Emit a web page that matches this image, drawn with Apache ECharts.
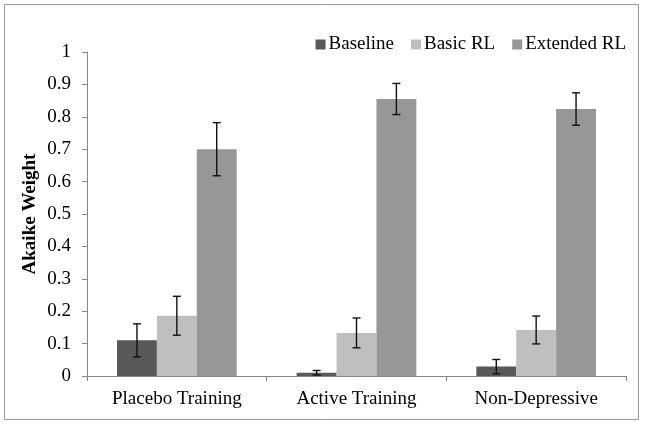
<!DOCTYPE html>
<html>
<head>
<meta charset="utf-8">
<script src="https://cdn.jsdelivr.net/npm/echarts@6/dist/echarts.min.js"></script>
<style>html,body{margin:0;padding:0;background:#fff}#c{width:645px;height:426px}</style>
</head>
<body>
<div id="c"></div>
<script>
const categories = ['Placebo Training', 'Active Training', 'Non-Depressive'];
const seriesNames = ['Baseline', 'Basic RL', 'Extended RL'];
const baseline = [0.110, 0.010, 0.029];
const basicRL = [0.186, 0.133, 0.142];
const extendedRL = [0.700, 0.855, 0.824];
const baselineErr = [0.051, 0.007, 0.022];
const basicRLErr = [0.060, 0.046, 0.043];
const extendedRLErr = [0.082, 0.048, 0.050];
const yTicks = [0, 0.1, 0.2, 0.3, 0.4, 0.5, 0.6, 0.7, 0.8, 0.9, 1];

const values = [baseline, basicRL, extendedRL];
const errs = [baselineErr, basicRLErr, extendedRLErr];
const colors = ['#585858', '#bfbfbf', '#979797'];
const GAP = 0.334;
const FONT = '"Liberation Serif", "Times New Roman", serif';

const errData = [];
values.forEach((arr, s) => arr.forEach((v, i) => errData.push([i, v - errs[s][i], v + errs[s][i], s])));

const chart = echarts.init(document.getElementById('c'));
chart.setOption({
  animation: false,
  textStyle: { fontFamily: FONT },
  graphic: [{ type: 'rect', shape: { x: 4.5, y: 4.5, width: 634, height: 415 }, style: { fill: 'none', stroke: '#9a9a9a', lineWidth: 1 }, z: -1 }],
  legend: {
    data: seriesNames,
    right: 14, top: 30,
    icon: 'rect', itemWidth: 10, itemHeight: 10, itemGap: 17,
    textStyle: { fontFamily: FONT, fontSize: 19, color: '#000', padding: [0, 0, 0, -2] }
  },
  grid: { left: 87, right: 19, top: 52, bottom: 50 },
  xAxis: {
    type: 'category', data: categories,
    axisLine: { lineStyle: { color: '#868686', width: 1 } },
    axisTick: { show: true, length: 5, lineStyle: { color: '#868686' } },
    axisLabel: { fontFamily: FONT, fontSize: 19, color: '#000', margin: 14 }
  },
  yAxis: {
    type: 'value', min: 0, max: 1, interval: 0.1,
    name: 'Akaike Weight', nameLocation: 'middle', nameGap: 47, nameMoveOverlap: false,
    nameTextStyle: { fontFamily: FONT, fontSize: 19, fontWeight: 'bold', color: '#000' },
    axisLine: { show: true, lineStyle: { color: '#868686' } },
    axisTick: { show: true, length: 5, lineStyle: { color: '#868686' } },
    splitLine: { show: false },
    axisLabel: { fontFamily: FONT, fontSize: 19, color: '#000', margin: 16,
      formatter: v => { const t = yTicks.find(x => Math.abs(x - v) < 1e-9); return t === undefined ? '' : String(t); } }
  },
  series: values.map((arr, s) => ({
    name: seriesNames[s], type: 'bar', data: arr,
    barGap: '0%', barCategoryGap: (GAP * 100) + '%',
    itemStyle: { color: colors[s] }
  })).concat([{
    type: 'custom', name: 'err', data: errData, z: 10,
    encode: { x: 0, y: [1, 2] },
    renderItem: function (params, api) {
      const cat = api.value(0), lo = api.value(1), hi = api.value(2), s = api.value(3);
      const band = api.size([1, 0])[0];
      const bw = band * (1 - GAP) / 3;
      const c = api.coord([cat, lo]);
      const x = c[0] + (s - 1) * bw;
      const yLo = c[1];
      const yHi = api.coord([cat, hi])[1];
      const hw = 4;
      const st = { stroke: '#111', lineWidth: 1.4 };
      return { type: 'group', children: [
        { type: 'line', shape: { x1: x, y1: yLo, x2: x, y2: yHi }, style: st },
        { type: 'line', shape: { x1: x - hw, y1: yLo, x2: x + hw, y2: yLo }, style: st },
        { type: 'line', shape: { x1: x - hw, y1: yHi, x2: x + hw, y2: yHi }, style: st }
      ] };
    }
  }])
});
</script>
</body>
</html>
